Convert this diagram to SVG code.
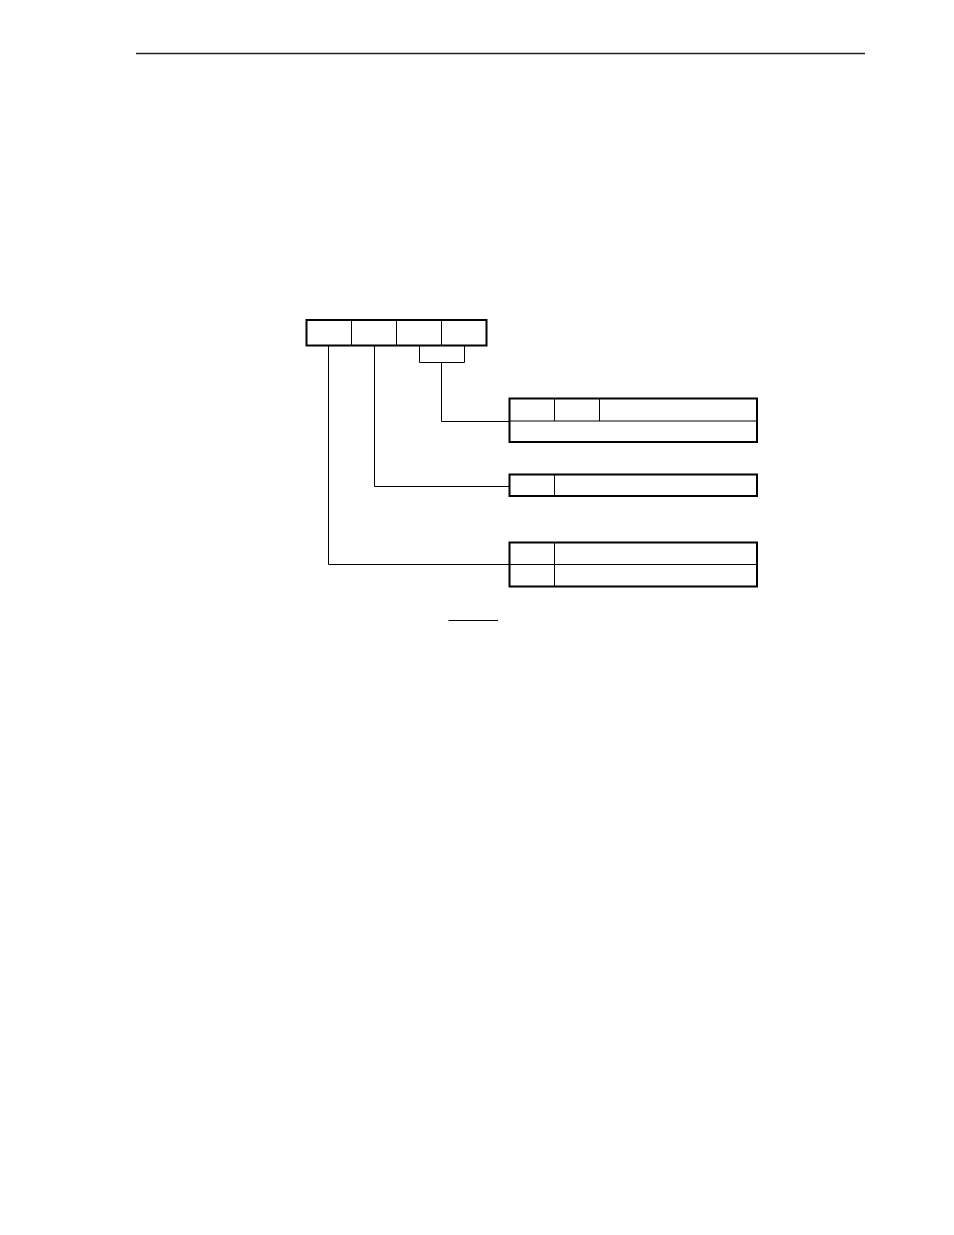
<svg xmlns="http://www.w3.org/2000/svg" width="954" height="1235" viewBox="0 0 954 1235">
<style>
.frame{fill:none;stroke:#000;stroke-width:2}
.inner{fill:none;stroke:#000;stroke-width:1}
.conn{fill:none;stroke:#000;stroke-width:1}
</style>
<rect width="954" height="1235" fill="#fff"/>
<line x1="136" y1="53.5" x2="865" y2="53.5" stroke="#222" stroke-width="1.3"/>
<g id="register">
<rect class="frame" x="306.5" y="320" width="180" height="25.5"/>
<line class="inner" x1="351.5" y1="320" x2="351.5" y2="345.5"/>
<line class="inner" x1="396.5" y1="320" x2="396.5" y2="345.5"/>
<line class="inner" x1="441.5" y1="320" x2="441.5" y2="345.5"/>
</g>
<g id="table1">
<rect class="frame" x="509.5" y="398.5" width="247.5" height="43.5"/>
<line class="inner" x1="509.5" y1="421" x2="757" y2="421"/>
<line class="inner" x1="554.5" y1="398.5" x2="554.5" y2="421"/>
<line class="inner" x1="599.5" y1="398.5" x2="599.5" y2="421"/>
</g>
<g id="table2">
<rect class="frame" x="509.5" y="474.5" width="247.5" height="21.5"/>
<line class="inner" x1="554.5" y1="474.5" x2="554.5" y2="496"/>
</g>
<g id="table3">
<rect class="frame" x="509.5" y="542.5" width="247.5" height="44"/>
<line class="inner" x1="509.5" y1="564.5" x2="757" y2="564.5"/>
<line class="inner" x1="554.5" y1="542.5" x2="554.5" y2="586.5"/>
</g>
<g id="connectors">
<polyline class="conn" points="419.5,345.5 419.5,362.5 464.5,362.5 464.5,345.5"/>
<polyline class="conn" points="441.5,362.5 441.5,421.5 509.5,421.5"/>
<polyline class="conn" points="374.5,345.5 374.5,486.5 509.5,486.5"/>
<polyline class="conn" points="328.5,345.5 328.5,564.5 509.5,564.5"/>
</g>
<line x1="448.5" y1="620.5" x2="498" y2="620.5" stroke="#000" stroke-width="1"/>
</svg>
